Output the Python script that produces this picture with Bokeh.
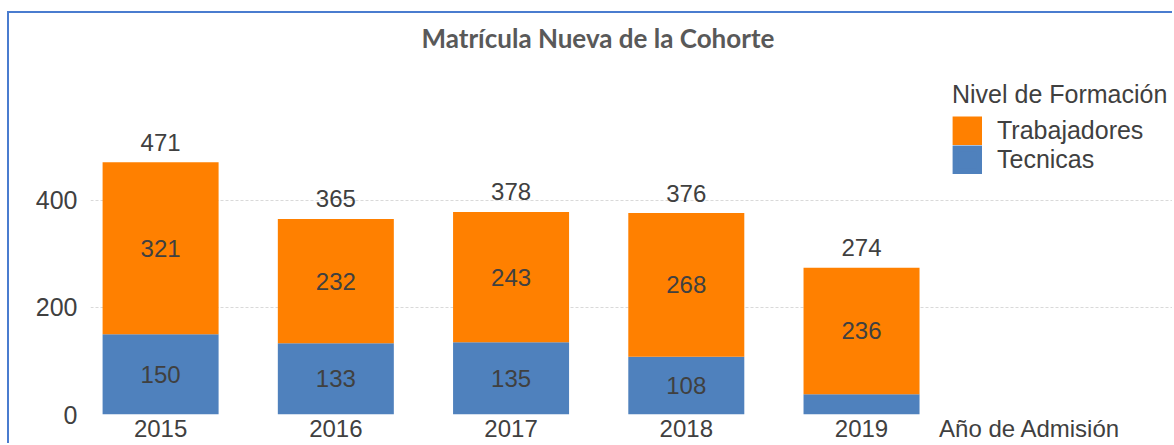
from bokeh.plotting import figure
from bokeh.models import Range1d, FixedTicker, Legend, LegendItem, ColumnDataSource
from bokeh.core.properties import value
from bokeh.embed import file_html
from bokeh.resources import INLINE

years = [2015, 2016, 2017, 2018, 2019]
year_labels = ["2015", "2016", "2017", "2018", "2019"]
tecnicas = [150, 133, 135, 108, 38]
trabajadores = [321, 232, 243, 268, 236]
totales = [t + w for t, w in zip(tecnicas, trabajadores)]
series = ["Tecnicas", "Trabajadores"]
legend_order = ["Trabajadores", "Tecnicas"]
colors = ["#4F81BD", "#FF8000"]
y_ticks = [0, 200, 400]
title_text = "Matrícula Nueva de la Cohorte"
legend_title = "Nivel de Formación"
x_title = "Año de Admisión"

FONT = "Liberation Sans"
TXT = "#404040"

X0, X1 = 2014.6, 2020.786      # frame spans to the right edge of the canvas
BAR_END = 2019.382             # where the grid lines stop
X_TITLE_POS = 2019.96          # axis title sits in line with the year labels

W, H = 1165, 432
p = figure(width=W, height=H, output_backend="svg", toolbar_location=None,
           x_range=Range1d(X0, X1), y_range=Range1d(0, 664.5),
           min_border_left=81, min_border_right=0, min_border_top=45,
           min_border_bottom=31)
p.margin = (11, 0, 0, 7)
p.styles = {"border-left": "2px solid #4A7CCF", "border-top": "2px solid #4A7CCF"}

src = ColumnDataSource(dict(
    year=years,
    Tecnicas=tecnicas,
    Trabajadores=trabajadores,
    total=totales,
    tec_mid=[t / 2 for t in tecnicas],
    trab_mid=[t + w / 2 for t, w in zip(tecnicas, trabajadores)],
    tec_lab=[str(t) if t >= 60 else "" for t in tecnicas],
    trab_lab=[str(w) for w in trabajadores],
    tot_lab=[str(s) for s in totales],
))

rs = p.vbar_stack(series, x="year", width=0.662, color=colors, source=src,
                  line_color=None)

common = dict(text_align="center", text_baseline="middle",
              text_font=value(FONT), text_font_size="24px", text_color=TXT,
              source=src)
p.text(x="year", y="tec_mid", text="tec_lab", **common)
p.text(x="year", y="trab_mid", text="trab_lab", **common)
p.text(x="year", y="total", text="tot_lab", y_offset=-20, **common)

# legend keys: hidden copies of the series, stroked so the two keys touch
swatch = {}
for name, c in zip(series, colors):
    r = p.vbar(x="year", top=name, width=0.662, source=src,
               fill_color=c, line_color=c, line_width=5.8, line_join="miter")
    r.visible = False
    swatch[name] = r

# axes
overrides = dict(zip(years, year_labels))
overrides[X_TITLE_POS] = x_title
p.xaxis.ticker = FixedTicker(ticks=years + [X_TITLE_POS])
p.xaxis.major_label_overrides = overrides
p.yaxis.ticker = FixedTicker(ticks=y_ticks)
for ax in (p.xaxis, p.yaxis):
    ax.axis_line_color = None
    ax.major_tick_line_color = None
    ax.minor_tick_line_color = None
    ax.major_tick_out = 0
    ax.major_tick_in = 0
    ax.minor_tick_out = 0
    ax.minor_tick_in = 0
    ax.major_label_text_font = FONT
    ax.major_label_text_color = TXT
p.yaxis.major_label_text_font_size = "25px"
p.xaxis.major_label_text_font_size = "24px"
p.yaxis.major_label_standoff = 13
p.xaxis.major_label_standoff = 0

p.xgrid.grid_line_color = None
p.ygrid.grid_line_color = "#D9D9D9"
p.ygrid.grid_line_dash = "3 2"
p.ygrid.bounds = (X0, BAR_END)
p.outline_line_color = None

# title
p.title.text = title_text
p.title.align = "left"
p.title.offset = 331
p.title.text_font = "Lato"
p.title.text_font_size = "26px"
p.title.text_font_style = "bold"
p.title.text_color = "#595959"

# legend
items = [LegendItem(label=name, renderers=[swatch[name]]) for name in legend_order]
legend = Legend(items=items, location=(862, 240), title=legend_title)
legend.border_line_color = None
legend.background_fill_alpha = 0
legend.inactive_fill_alpha = 0
legend.padding = 0
legend.margin = 0
legend.spacing = 0
legend.glyph_width = 30
legend.glyph_height = 29
legend.label_height = 29
legend.label_standoff = 15
legend.label_text_font = FONT
legend.label_text_font_size = "25px"
legend.label_text_color = TXT
legend.title_text_font = FONT
legend.title_text_font_size = "25px"
legend.title_text_font_style = "normal"
legend.title_text_color = TXT
legend.title_standoff = 7
p.add_layout(legend)

open("out.html", "w").write(file_html(p, INLINE))
